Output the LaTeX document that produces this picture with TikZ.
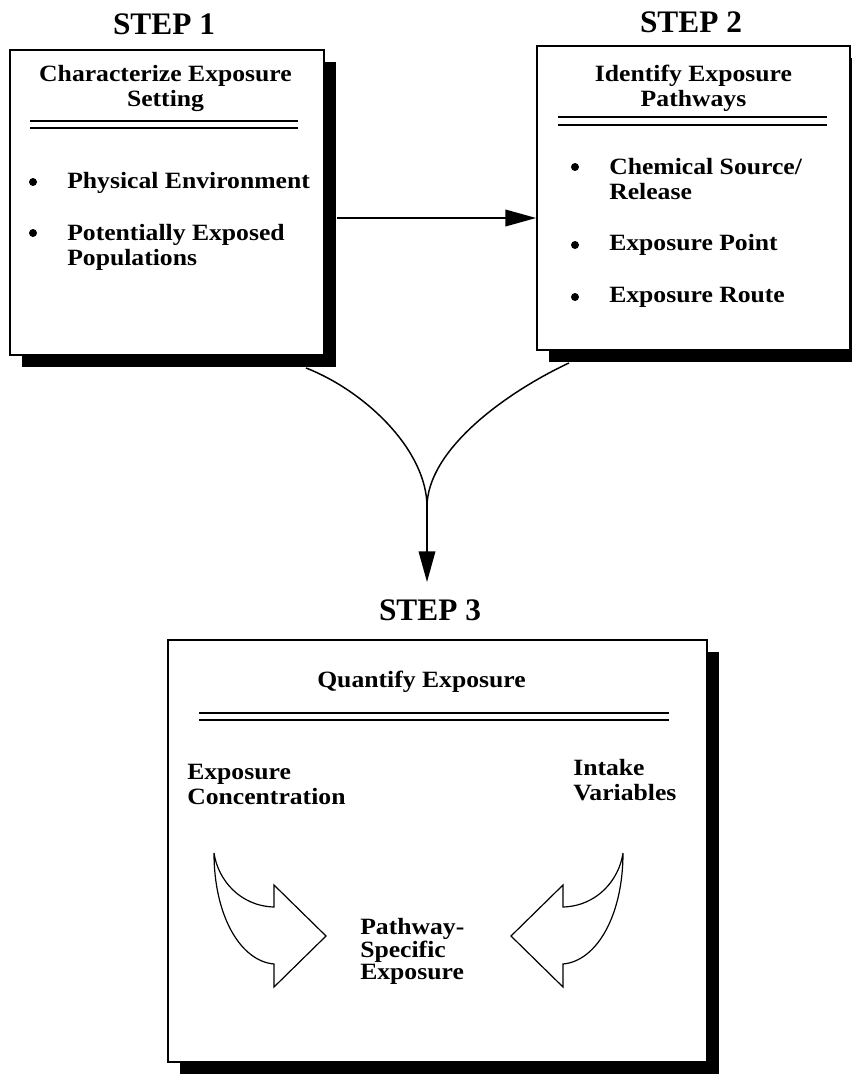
\documentclass[tikz,border=0pt]{standalone}
\usepackage{fontspec}
\setmainfont{Liberation Serif}[FakeStretch=1.10]
\newfontfamily\stepfont{Liberation Serif}
\usetikzlibrary{arrows.meta,calc,positioning,shadows}

\begin{document}
\begin{tikzpicture}[x=0.75pt, y=-0.75pt,
    box/.style={rectangle, draw, line width=1.4pt, fill=white, inner sep=0pt,
      drop shadow={shadow xshift=9pt, shadow yshift=-9pt, fill=black, opacity=1}},
    steplabel/.style={font=\stepfont\bfseries\fontsize{23.5pt}{28pt}\selectfont, inner sep=0pt, anchor=base},
    txt/.style={font=\bfseries\fontsize{17.5pt}{18.75pt}\selectfont, inner sep=0pt},
    arrow/.style={-{Triangle[length=23pt,width=12.5pt]}, line width=1.1pt},
    rule/.style={line width=1.1pt},
    curl/.pic={\draw[line width=0.9pt] (0,0) .. controls (4,27) and (26,53) .. (60,54) -- (60,32) -- (112,83)
      -- (60,134) -- (60,111) .. controls (26,108) and (0,62) .. cycle;}]
    \useasboundingbox (0,0) rectangle (852,1074);

    \node[box, minimum width=235.5pt, minimum height=228.75pt] (setting) at (167,202.5) {};
    \node[box, minimum width=234.75pt, minimum height=228pt] (pathways) at (693.5,198) {};
    \node[box, minimum width=404.25pt, minimum height=316.5pt] (quantify) at (437.5,851) {};

    \node[steplabel] (step1) at (164,35) {STEP 1};
    \node[steplabel] (step2) at (691,33) {STEP 2};
    \node[steplabel] (step3) at (430,620) {STEP 3};

    \node[txt, align=center, anchor=base] (settitle) at (165.5,107) {Characterize Exposure\\Setting};
    \draw[rule] (30,121) -- (298,121) (30,128) -- (298,128);
    \fill (33,182) circle[radius=3pt] (33,233) circle[radius=3pt];
    \node[txt, anchor=base west] (env) at (67,188) {Physical Environment};
    \node[txt, align=left, anchor=base west] (pop) at (67,265) {Potentially Exposed\\Populations};

    \node[txt, align=center, anchor=base] (pathtitle) at (693.5,106) {Identify Exposure\\Pathways};
    \draw[rule] (558,117) -- (827,117) (558,125) -- (827,125);
    \fill (575,167) circle[radius=3pt] (575,245) circle[radius=3pt] (575,297) circle[radius=3pt];
    \node[txt, align=left, anchor=base west] (source) at (609,199) {Chemical Source/\\Release};
    \node[txt, anchor=base west] (point) at (609,250) {Exposure Point};
    \node[txt, anchor=base west] (route) at (609,302) {Exposure Route};

    \node[txt, anchor=base] (quanttitle) at (421.5,687) {Quantify Exposure};
    \draw[rule] (199,713) -- (669,713) (199,720) -- (669,720);
    \node[txt, align=left, anchor=base west] (conc) at (187,804) {Exposure\\Concentration};
    \node[txt, align=left, anchor=base west] (intake) at (573,800) {Intake\\Variables};
    \node[txt, align=left, anchor=base west, font=\bfseries\fontsize{17.5pt}{15pt}\selectfont] (specific) at (360,979) {Pathway-\\Specific\\Exposure};
    \pic at (214,853) {curl};
    \pic[xscale=-1] at (623,853) {curl};

    \coordinate (link) at (430,218);
    \coordinate (join) at (427,507);
    \draw[arrow] ($(setting.east |- link)+(12,0)$) -- (pathways.west |- link);
    \draw[line width=1.1pt] ($(setting.south east)+(-19,12)$) .. controls (365,391) and (427,450) .. (join);
    \draw[line width=1.1pt] ($(pathways.south west)+(33,12)$) .. controls (505,393) and (427,450) .. (join);
    \draw[arrow] (join) -- ($(join |- step3.north)+(0,-17)$);
\end{tikzpicture}
\end{document}
